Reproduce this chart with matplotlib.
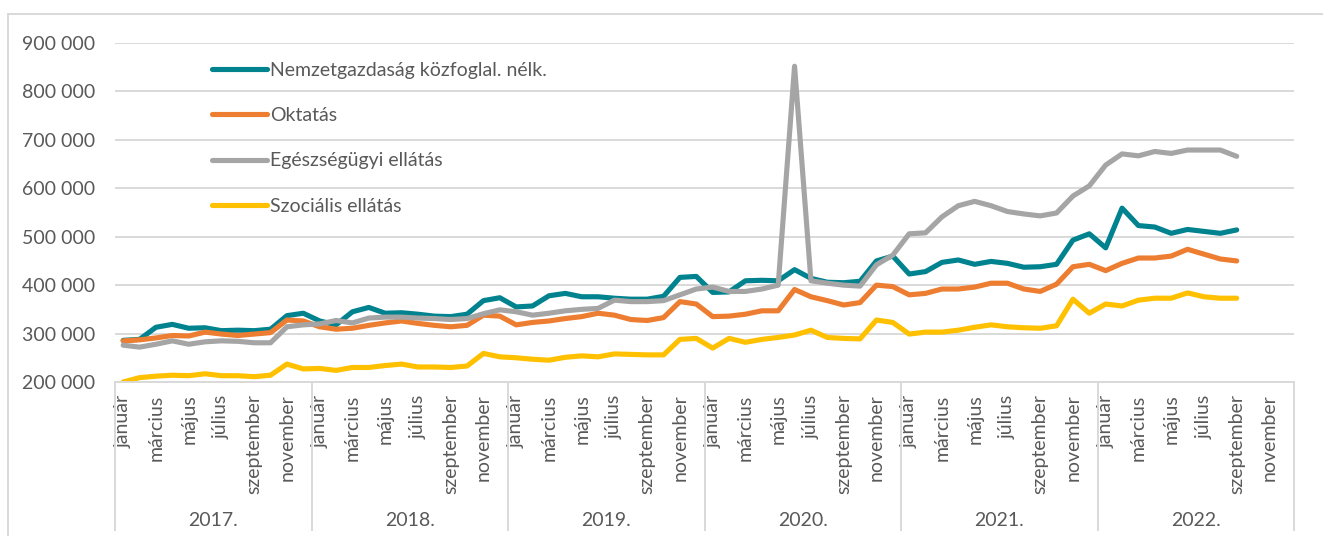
import numpy as np
import matplotlib
matplotlib.use("Agg")
import matplotlib.pyplot as plt
import matplotlib.transforms as mtransforms
from matplotlib.lines import Line2D

plt.rcParams['font.family'] = ['Lato', 'DejaVu Sans']

years = ['2017.', '2018.', '2019.', '2020.', '2021.', '2022.']
months = ['január', 'február', 'március', 'április', 'május', 'június',
          'július', 'augusztus', 'szeptember', 'október', 'november', 'december']

# thousand HUF, monthly from 2017 january to 2022 september
nemzetgazdasag = [286, 288, 313, 319, 311, 312, 306, 307, 306, 309, 337, 342,
                  326, 318, 345, 354, 342, 343, 340, 336, 335, 340, 368, 374,
                  355, 357, 378, 383, 376, 376, 373, 371, 371, 377, 416, 418,
                  385, 386, 409, 410, 409, 432, 414, 406, 405, 408, 450, 460,
                  423, 428, 447, 452, 443, 449, 445, 437, 438, 443, 493, 506,
                  477, 559, 523, 520, 507, 515, 511, 507, 514]
oktatas = [285, 287, 291, 296, 295, 303, 299, 296, 299, 302, 328, 326,
           314, 309, 311, 317, 322, 326, 321, 317, 314, 317, 338, 336,
           318, 323, 326, 331, 335, 342, 338, 329, 327, 333, 366, 361,
           335, 336, 340, 347, 347, 391, 376, 368, 359, 364, 400, 397,
           380, 383, 392, 392, 396, 404, 404, 392, 387, 402, 438, 443,
           430, 445, 456, 456, 460, 474, 464, 454, 450]
egeszsegugy = [276, 272, 278, 285, 278, 283, 285, 284, 281, 281, 314, 318,
               320, 327, 322, 332, 334, 334, 332, 331, 329, 331, 341, 349,
               345, 338, 342, 347, 350, 352, 369, 366, 366, 368, 380, 392,
               396, 387, 387, 392, 400, 852, 409, 404, 400, 398, 442, 462,
               506, 508, 541, 564, 573, 564, 552, 547, 543, 549, 584, 605,
               648, 671, 667, 676, 672, 679, 679, 679, 666]
szocialis = [200, 209, 212, 214, 213, 217, 213, 213, 211, 214, 237, 227,
             228, 224, 230, 230, 234, 237, 231, 231, 230, 233, 259, 252,
             250, 247, 245, 251, 254, 252, 258, 257, 256, 256, 288, 290,
             270, 290, 282, 288, 292, 297, 307, 292, 290, 289, 328, 323,
             299, 303, 303, 307, 313, 318, 314, 312, 311, 316, 371, 342,
             361, 357, 369, 373, 373, 384, 376, 373, 373]

series = [
    ('Nemzetgazdaság közfoglal. nélk.', nemzetgazdasag, '#00838F'),
    ('Oktatás', oktatas, '#ED7D31'),
    ('Egészségügyi ellátás', egeszsegugy, '#A5A5A5'),
    ('Szociális ellátás', szocialis, '#FFC000'),
]

text_col = '#595959'
grid_col = '#D9D9D9'
n_slots = len(years) * 12

fig = plt.figure(figsize=(13.23, 5.36), dpi=100)
ax = fig.add_axes([115 / 1323, 1 - 382 / 536, (1294 - 115) / 1323, (382 - 43) / 536])

for name, vals, col in series:
    x = np.arange(len(vals))
    ax.plot(x, np.array(vals) * 1000, color=col, lw=3.7, label=name,
            solid_capstyle='round', solid_joinstyle='round')

ax.set_xlim(-0.5, n_slots - 0.5)
ax.set_ylim(200000, 900000)
ax.set_yticks(range(200000, 900001, 100000))
ax.set_yticklabels([f'{v:,}'.replace(',', ' ') for v in range(200000, 900001, 100000)])
ax.yaxis.grid(True, color=grid_col, lw=1.4)
ax.set_axisbelow(True)

xt = list(range(0, n_slots, 2))
ax.set_xticks(xt)
ax.set_xticklabels([months[i % 12] for i in xt], rotation=90)
ax.tick_params(axis='both', length=0, labelsize=14, labelcolor=text_col)
ax.tick_params(axis='x', pad=9)
ax.tick_params(axis='y', pad=14)

for s in ['top', 'right', 'left']:
    ax.spines[s].set_visible(False)
ax.spines['bottom'].set_color(grid_col)
ax.spines['bottom'].set_linewidth(1.4)

# year groups under the month labels
tr = mtransforms.blended_transform_factory(ax.transData, fig.transFigure)
y_axis = 1 - 382 / 536
y_low = 1 - 530 / 536
for i in range(len(years) + 1):
    ax.plot([i * 12 - 0.5] * 2, [y_axis, y_low], transform=tr, color=grid_col,
            lw=1.4, clip_on=False)
for i, yr in enumerate(years):
    ax.text(i * 12 + 5.5, 1 - 520 / 536, yr, transform=tr, ha='center', va='center',
            fontsize=14, color=text_col)

leg = ax.legend(loc='upper left', bbox_to_anchor=(212 / 1323, 1 - 62 / 536),
                bbox_transform=fig.transFigure, frameon=False, fontsize=14,
                handlelength=2.85, handletextpad=0.15, labelspacing=1.45,
                borderpad=0, borderaxespad=0)
for t in leg.get_texts():
    t.set_color(text_col)

# outer chart border
fig.add_artist(Line2D([8 / 1323, 8 / 1323], [0, 1 - 14 / 536], color=grid_col, lw=1.4))
fig.add_artist(Line2D([8 / 1323, 1], [1 - 14 / 536, 1 - 14 / 536], color=grid_col, lw=1.4))

fig.savefig('out.png', dpi=100)
